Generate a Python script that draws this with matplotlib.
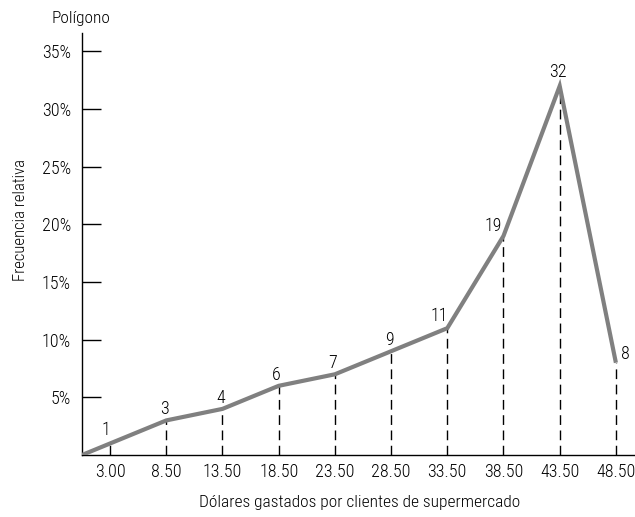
import matplotlib.pyplot as plt

# datos
clases = ['3.00', '8.50', '13.50', '18.50', '23.50', '28.50', '33.50', '38.50', '43.50', '48.50']
frecuencia = [1, 3, 4, 6, 7, 9, 11, 19, 32, 8]
porcentajes = [5, 10, 15, 20, 25, 30, 35]

plt.rcParams['font.family'] = ['Roboto Condensed', 'DejaVu Sans']
plt.rcParams['font.weight'] = 'light'

fig = plt.figure(figsize=(6.35, 5.17), dpi=100)
ax = fig.add_axes([82 / 635, 62 / 517, 553 / 635, 422 / 517])

pos = list(range(1, len(clases) + 1))
gris = '#808080'

# poligono, arranca en cero medio intervalo antes
xs = [pos[0] - 0.5] + pos
ys = [0] + frecuencia
ax.plot(xs, ys, color=gris, lw=3, solid_capstyle='butt', solid_joinstyle='miter', zorder=3)

for p, f in zip(pos, frecuencia):
    ax.plot([p, p], [0, f], color='black', lw=1, ls=(0, (7, 4)), zorder=2)

# etiquetas de conteo
offs = {0: (-4, 8), 6: (-8, 7), 7: (-10, 5), 8: (-2, 9), 9: (5, 4)}
for i, (p, f) in enumerate(zip(pos, frecuencia)):
    dx, dy = offs.get(i, (-2, 6))
    ha = 'left' if i == 9 else 'center'
    ax.annotate(str(f), (p, f), xytext=(dx, dy), textcoords='offset pixels',
                ha=ha, va='baseline', fontsize=13)

ax.set_xlim(pos[0] - 0.5, pos[-1] + 0.34)
ax.set_ylim(0, 36.6)
ax.set_xticks(pos)
ax.set_xticklabels(clases, fontsize=13)
ax.set_yticks(porcentajes)
ax.set_yticklabels([f'{v}%' for v in porcentajes], fontsize=13)
ax.tick_params(axis='x', length=0, pad=6)
ax.tick_params(axis='y', direction='in', length=14, width=1, pad=8)
for s in ['top', 'right']:
    ax.spines[s].set_visible(False)
ax.spines['left'].set_linewidth(1)
ax.spines['bottom'].set_linewidth(1)

fig.text(360 / 635, 1 - 503 / 517, 'Dólares gastados por clientes de supermercado',
         ha='center', va='center', fontsize=12.5)
fig.text(21 / 635, 1 - 220 / 517, 'Frecuencia relativa', rotation=90, ha='center', va='center', fontsize=12)
fig.text(81 / 635, 1 - 19 / 517, 'Polígono', ha='center', va='center', fontsize=12.5)

fig.savefig('out.png', dpi=100)
